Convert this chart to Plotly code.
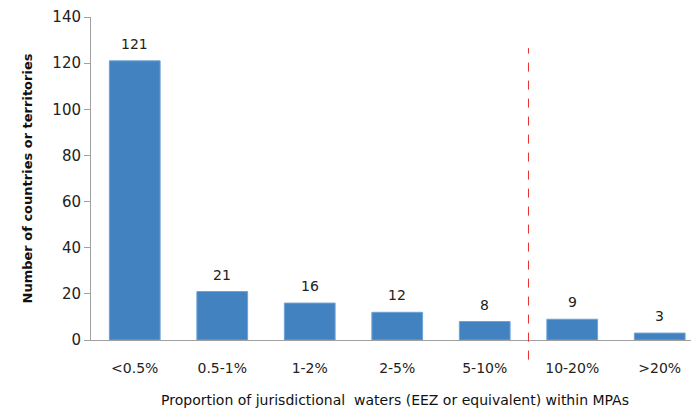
import plotly.graph_objects as go

categories = ["<0.5%", "0.5-1%", "1-2%", "2-5%", "5-10%", "10-20%", ">20%"]
counts = [121, 21, 16, 12, 8, 9, 3]
y_ticks = [0, 20, 40, 60, 80, 100, 120, 140]
divider_position = 4.5  # between "5-10%" and "10-20%"

x_range = [-0.5, 6.449]
y_range = [0, 140]
xpos = list(range(len(categories)))

fig = go.Figure()
fig.add_trace(go.Bar(
    x=xpos,
    y=counts,
    width=0.58,
    marker=dict(color="#4282C1", line=dict(color="#6FA3D6", width=1)),
))

for xi, v in zip(xpos, counts):
    fig.add_annotation(x=xi, y=v, text=str(v), showarrow=False,
                       yanchor="bottom", yshift=7,
                       font=dict(family="DejaVu Sans", size=14, color="#222222"))

# dashed divider, converted to paper coordinates so it can extend below the axis
px = (divider_position - x_range[0]) / (x_range[1] - x_range[0])
fig.add_shape(type="line", xref="paper", yref="paper",
              x0=px, x1=px,
              y0=(-8.5 - y_range[0]) / (y_range[1] - y_range[0]),
              y1=(126.5 - y_range[0]) / (y_range[1] - y_range[0]),
              line=dict(color="#E8302A", width=1, dash="dash"))

fig.update_layout(
    width=691, height=404,
    margin=dict(l=83, r=0, t=9, b=72, autoexpand=False),
    paper_bgcolor="white", plot_bgcolor="white",
    showlegend=False,
    font=dict(family="DejaVu Sans", color="#222222"),
    xaxis=dict(
        range=x_range,
        automargin=False,
        tickmode="array",
        tickvals=xpos,
        ticktext=categories,
        ticks="",
        showline=True, linecolor="#A0A0A0", linewidth=1,
        showgrid=False, zeroline=False,
        tickfont=dict(size=14, color="#222222"),
        ticklabelstandoff=15,
        title=dict(text="Proportion of jurisdictional  waters (EEZ or equivalent) within MPAs",
                   font=dict(size=14, color="#111111"), standoff=20),
    ),
    yaxis=dict(
        range=y_range,
        automargin=False,
        tickmode="array",
        tickvals=y_ticks,
        ticklabeloverflow="allow",
        ticks="outside", ticklen=6, tickcolor="#A0A0A0",
        showline=True, linecolor="#A0A0A0", linewidth=1,
        showgrid=False, zeroline=False,
        tickfont=dict(size=15, color="#222222"),
        title=dict(text="<b>Number of countries or territories</b>",
                   font=dict(size=13, color="#111111"), standoff=16),
    ),
)

fig.write_html("out.html")
